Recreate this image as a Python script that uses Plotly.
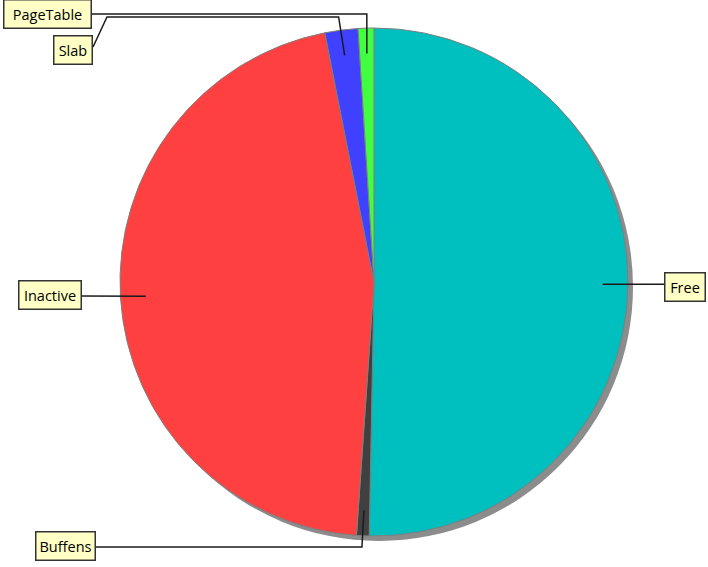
import math

import plotly.graph_objects as go

# memory breakdown, clockwise from 12 o'clock
labels = ["Free", "Buffens", "Inactive", "Slab", "PageTable"]
values = [50.3, 0.8, 45.8, 2.1, 1.0]
colors = ["#00BFBF", "#404040", "#FF4040", "#4040FF", "#40FF40"]

W, H = 708, 567
CX, CY, R = 374, 282, 254  # pie centre / radius in pixels
SHADOW = 5


def px(x):
    return x / W


def py(y):
    return 1 - y / H


def domain(dx=0, dy=0):
    return dict(
        x=[px(CX - R + dx), px(CX + R + dx)],
        y=[py(CY + R + dy), py(CY - R + dy)],
    )


# anchor point of each slice (mid angle, 0.9 of radius)
total = sum(values)
anchors = {}
acc = 0.0
for lab, v in zip(labels, values):
    theta = 2 * math.pi * (acc + v / 2) / total
    acc += v
    anchors[lab] = (CX + 0.9 * R * math.sin(theta), CY - 0.9 * R * math.cos(theta))

fig = go.Figure()

# drop shadow
fig.add_trace(
    go.Pie(
        values=[1],
        labels=["shadow"],
        domain=domain(SHADOW, SHADOW),
        marker=dict(colors=["#8C8C8C"], line=dict(width=0)),
        textinfo="none",
        hoverinfo="skip",
        showlegend=False,
    )
)

fig.add_trace(
    go.Pie(
        values=values,
        labels=labels,
        domain=domain(),
        sort=False,
        direction="clockwise",
        rotation=0,
        marker=dict(colors=colors, line=dict(color="#7F7F7F", width=1)),
        textinfo="none",
        showlegend=False,
    )
)

# leader lines (pixel coords) and label boxes
ax, ay = anchors["Free"]
fr = [(ax, ay), (665, ay)]
ax, ay = anchors["Inactive"]
ina = [(ax, ay), (81, 296)]
ax, ay = anchors["Buffens"]
buf = [(ax, ay), (ax - 2, 547), (95, 547)]
ax, ay = anchors["Slab"]
slab = [(ax, ay), (ax - 6, 17), (107, 17), (93, 47)]
ax, ay = anchors["PageTable"]
pt = [(ax, ay), (ax, 14), (92, 14)]

shapes = []
for pts in [fr, ina, buf, slab, pt]:
    path = "M " + " L ".join(f"{px(x)},{py(y)}" for x, y in pts)
    shapes.append(
        dict(type="path", xref="paper", yref="paper", path=path,
             line=dict(color="#1A1A1A", width=1.5))
    )

# label box centre (px) and inner width
boxes = {
    "Free": (685, 287, 33),
    "Inactive": (50, 295, 55),
    "Buffens": (65, 546, 52),
    "Slab": (73, 50, 31),
    "PageTable": (47, 14, 80),
}
annotations = []
for lab, (x, y, w) in boxes.items():
    annotations.append(
        dict(
            x=px(x), y=py(y), xref="paper", yref="paper",
            text=lab, showarrow=False, width=w, height=21,
            font=dict(family="Open Sans", size=14.5, color="#000000"),
            bgcolor="#FFFFC6", bordercolor="#333333", borderwidth=1.5, borderpad=3,
            xanchor="center", yanchor="middle",
        )
    )

fig.update_layout(
    width=W,
    height=H,
    margin=dict(l=0, r=0, t=0, b=0),
    paper_bgcolor="white",
    plot_bgcolor="white",
    shapes=shapes,
    annotations=annotations,
)

fig.write_html(
    "out.html",
    config={"displayModeBar": False},
    post_script="document.body.style.margin='0px';",
)
